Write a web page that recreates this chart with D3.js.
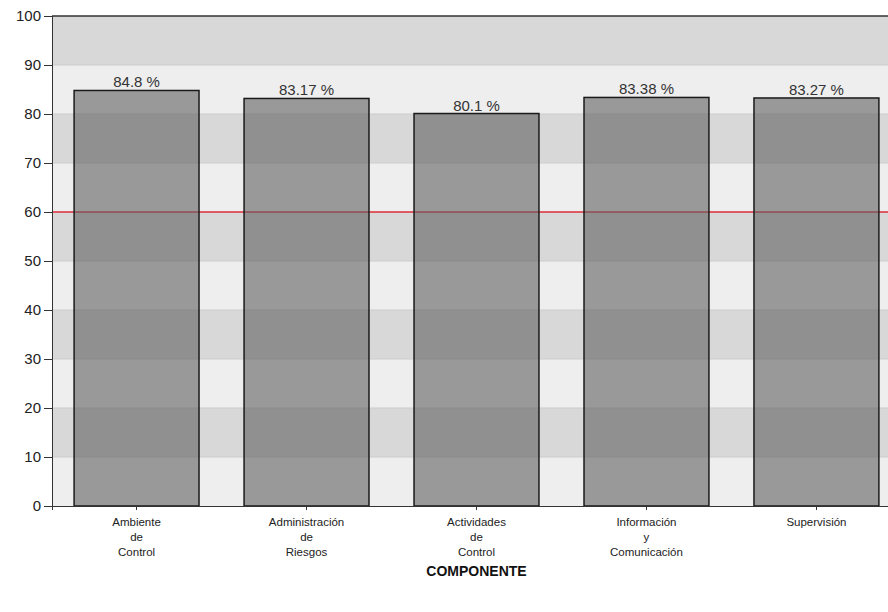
<!DOCTYPE html>
<meta charset="utf-8">
<style>
 body { margin: 0; background: #fff; }
 svg { display: block; font-family: Arial, "Liberation Sans", sans-serif; }
 .axis path, .axis line { stroke: #333; shape-rendering: crispEdges; }
 .axis text { fill: #222; }
</style>
<body>
<script src="https://cdn.jsdelivr.net/npm/d3@7"></script>
<script>

 // data
 var categories = [
     ["Ambiente", "de", "Control"],
     ["Administración", "de", "Riesgos"],
     ["Actividades", "de", "Control"],
     ["Información", "y", "Comunicación"],
     ["Supervisión"]
 ];
 var values = [84.8, 83.17, 80.1, 83.38, 83.27];
 var valueLabels = ["84.8 %", "83.17 %", "80.1 %", "83.38 %", "83.27 %"];
 var yTicks = [0, 10, 20, 30, 40, 50, 60, 70, 80, 90, 100];
 var threshold = 60;

 var W = 888, H = 612;
 var margin = {top: 16, left: 52, bottom: 106};
 var plotRight = 901; // plot runs past the window edge

 var svg = d3.select("body").append("svg")
             .attr("width", W)
             .attr("height", H);

 var x = d3.scaleBand()
           .domain(d3.range(values.length))
           .range([margin.left, plotRight])
           .paddingInner(0.265)
           .paddingOuter(0.13);

 var y = d3.scaleLinear()
           .domain([0, 100])
           .range([H - margin.bottom, margin.top]);

 // alternating background stripes
 svg.append("g").selectAll("rect")
    .data(d3.range(0, 100, 10))
    .join("rect")
    .attr("x", margin.left)
    .attr("width", plotRight - margin.left)
    .attr("y", function(d) { return y(d + 10); })
    .attr("height", function(d) { return y(d) - y(d + 10); })
    .attr("fill", function(d) { return (d / 10) % 2 ? "#d8d8d8" : "#eeeeee"; });

 // stripe boundary lines
 svg.append("g").selectAll("line")
    .data(yTicks.slice(1, -1))
    .join("line")
    .attr("x1", margin.left).attr("x2", plotRight)
    .attr("y1", function(d) { return y(d); })
    .attr("y2", function(d) { return y(d); })
    .attr("stroke", "#cccccc")
    .attr("stroke-width", 1);

 // reference line at 60
 svg.append("line")
    .attr("x1", margin.left).attr("x2", plotRight)
    .attr("y1", y(threshold)).attr("y2", y(threshold))
    .attr("stroke", "#e0303c")
    .attr("stroke-width", 1.3);

 // bars
 svg.append("g").selectAll("rect")
    .data(values)
    .join("rect")
    .attr("x", function(d, i) { return x(i); })
    .attr("width", x.bandwidth())
    .attr("y", function(d) { return y(d); })
    .attr("height", function(d) { return y(0) - y(d); })
    .attr("fill", "#606060")
    .attr("fill-opacity", 0.6)
    .attr("stroke", "#1a1a1a")
    .attr("stroke-width", 1.5);

 // value labels
 svg.append("g").selectAll("text")
    .data(values)
    .join("text")
    .attr("x", function(d, i) { return x(i) + x.bandwidth() / 2; })
    .attr("y", function(d) { return y(d) - 3; })
    .attr("text-anchor", "middle")
    .attr("font-size", 15)
    .attr("fill", "#333")
    .text(function(d, i) { return valueLabels[i]; });

 // frame top
 svg.append("line")
    .attr("x1", margin.left).attr("x2", plotRight)
    .attr("y1", margin.top).attr("y2", margin.top)
    .attr("stroke", "#333").attr("stroke-width", 1.5);

 // y axis
 svg.append("g")
    .attr("class", "axis")
    .attr("transform", "translate(" + margin.left + ",0)")
    .call(d3.axisLeft(y).tickValues(yTicks).tickSize(8).tickPadding(3))
    .call(function(g) { g.selectAll("text").attr("font-size", 15).attr("fill", "#333"); })
    .select(".domain").attr("stroke-width", 1.5);

 // x axis
 var gX = svg.append("g")
    .attr("class", "axis")
    .attr("transform", "translate(0," + y(0) + ")")
    .call(d3.axisBottom(x).tickSize(4).tickFormat(""));
 gX.select(".domain").attr("stroke-width", 1.5);

 gX.selectAll(".tick").append("text")
   .attr("fill", "#222")
   .attr("font-size", 11.5)
   .attr("text-anchor", "middle")
   .selectAll("tspan")
   .data(function(d) { return categories[d]; })
   .join("tspan")
   .attr("x", 0)
   .attr("y", function(d, i) { return 20 + i * 15; })
   .text(function(d) { return d; });

 // axis title
 svg.append("text")
    .attr("x", x(2) + x.bandwidth() / 2)
    .attr("y", 576)
    .attr("text-anchor", "middle")
    .attr("font-size", 14)
    .attr("font-weight", "bold")
    .attr("fill", "#111")
    .text("COMPONENTE");

</script>
